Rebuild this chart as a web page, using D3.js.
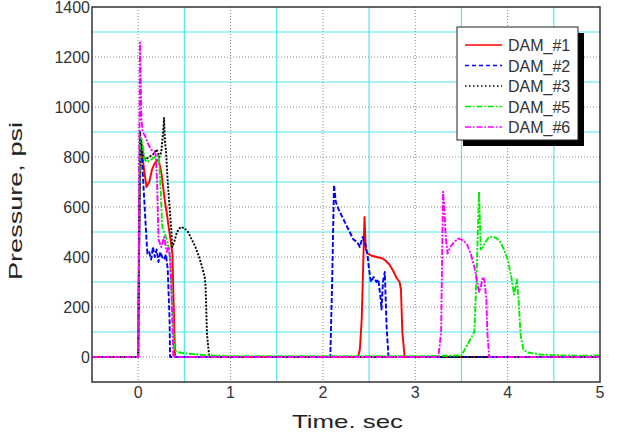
<!DOCTYPE html>
<html>
<head>
<meta charset="utf-8">
<script src="https://cdn.jsdelivr.net/npm/d3@7"></script>
<style>
  body { margin: 0; background: white; }
  text { font-family: "Liberation Sans", Arial, sans-serif; }
</style>
</head>
<body>
<div id="chart"></div>
<script>
const width = 619
const height = 432
const plotLeft = 92
const plotRight = 600
const plotTop = 7
const plotBottom = 382

// values
const xTicks = [0, 1, 2, 3, 4, 5]
const yTicks = [0, 200, 400, 600, 800, 1000, 1200, 1400]
const xMinor = [0.5, 1.5, 2.5, 3.5, 4.5]
const yMinor = [100, 300, 500, 700, 900, 1100, 1300]

const seriesNames = ['DAM_#1', 'DAM_#2', 'DAM_#3', 'DAM_#5', 'DAM_#6']
const seriesColors = ['#ff0000', '#0000ff', '#000000', '#00ee00', '#ff00ff']
const seriesDash = ['none', '5,2', '2,1.5', '6,1.5,2,1.5', '6,1.5,2,1.5']
const legendDash = ['none', '4,3', '1.5,2.5', '6,2,1.5,2', '6,2,1.5,2']

const tDam1 = [-0.5, 0.0, 0.015, 0.03, 0.06, 0.09, 0.12, 0.15, 0.18, 0.22, 0.25, 0.27, 0.29, 0.31, 0.33, 0.35, 0.37, 0.385, 0.40, 2.38, 2.40, 2.42, 2.44, 2.45, 2.465, 2.48, 2.53, 2.58, 2.64, 2.68, 2.72, 2.76, 2.80, 2.83, 2.845, 2.86, 2.885, 5.0]
const pDam1 = [0, 0, 600, 870, 760, 680, 700, 750, 776, 790, 740, 680, 620, 575, 520, 470, 414, 200, 0, 0, 30, 150, 420, 560, 430, 415, 405, 400, 395, 385, 370, 345, 315, 300, 270, 100, 0, 0]

const tDam2 = [-0.5, 0.0, 0.02, 0.04, 0.07, 0.09, 0.10, 0.12, 0.14, 0.16, 0.18, 0.20, 0.22, 0.24, 0.26, 0.28, 0.30, 0.32, 0.34, 0.345, 2.08, 2.10, 2.12, 2.14, 2.17, 2.21, 2.25, 2.29, 2.33, 2.37, 2.40, 2.43, 2.46, 2.48, 2.50, 2.52, 2.55, 2.58, 2.60, 2.62, 2.635, 2.65, 2.67, 2.68, 2.69, 2.71, 5.0]
const pDam2 = [0, 0, 880, 800, 600, 470, 414, 420, 390, 440, 400, 430, 380, 420, 400, 390, 410, 350, 150, 0, 0, 300, 688, 620, 590, 560, 530, 500, 470, 460, 440, 480, 450, 414, 350, 300, 320, 300, 310, 250, 190, 300, 340, 230, 120, 0, 0]

const tDam3 = [-0.5, 0.0, 0.02, 0.05, 0.08, 0.12, 0.16, 0.20, 0.23, 0.25, 0.27, 0.28, 0.29, 0.30, 0.32, 0.34, 0.36, 0.37, 0.39, 0.42, 0.46, 0.50, 0.54, 0.58, 0.62, 0.66, 0.70, 0.72, 0.73, 0.745, 0.77, 5.0]
const pDam3 = [0, 0, 900, 810, 790, 800, 810, 830, 800, 820, 900, 956, 860, 830, 700, 600, 500, 440, 460, 500, 520, 515, 500, 470, 440, 400, 350, 320, 280, 90, 0, 0]

const tDam5 = [-0.5, 0.0, 0.02, 0.04, 0.07, 0.10, 0.14, 0.18, 0.22, 0.24, 0.26, 0.28, 0.31, 0.34, 0.37, 0.39, 0.42, 0.5, 0.7, 1.0, 3.0, 3.5, 3.64, 3.67, 3.69, 3.71, 3.73, 3.76, 3.80, 3.84, 3.88, 3.92, 3.96, 4.00, 4.04, 4.07, 4.09, 4.10, 4.12, 4.14, 4.17, 4.22, 4.35, 4.6, 5.0]
const pDam5 = [0, 0, 880, 870, 790, 780, 790, 800, 805, 700, 520, 500, 470, 420, 200, 30, 20, 15, 8, 3, 3, 6, 100, 400, 661, 430, 440, 460, 480, 482, 475, 460, 430, 390, 320, 250, 290, 310, 220, 90, 30, 18, 10, 6, 5]

const tDam6 = [-0.5, 0.0, 0.01, 0.02, 0.035, 0.05, 0.08, 0.11, 0.14, 0.17, 0.19, 0.205, 0.22, 0.25, 0.28, 0.31, 0.33, 0.35, 0.37, 0.38, 3.25, 3.28, 3.30, 3.31, 3.33, 3.35, 3.38, 3.42, 3.47, 3.52, 3.56, 3.60, 3.64, 3.67, 3.69, 3.71, 3.73, 3.75, 3.77, 3.78, 3.80, 5.0]
const pDam6 = [0, 0, 700, 1258, 950, 900, 880, 850, 830, 820, 810, 700, 470, 440, 480, 420, 440, 380, 150, 0, 0, 100, 661, 620, 480, 414, 440, 460, 474, 466, 450, 414, 360, 300, 260, 280, 320, 306, 226, 100, 0, 0]

const seriesT = [tDam1, tDam2, tDam3, tDam5, tDam6]
const seriesP = [pDam1, pDam2, pDam3, pDam5, pDam6]

const xScale = d3.scaleLinear().domain([-0.5, 5]).range([plotLeft, plotRight])
const yScale = d3.scaleLinear().domain([-100, 1400]).range([plotBottom, plotTop])

const svg = d3.select('#chart').append('svg')
    .attr('width', width)
    .attr('height', height)

svg.append('rect')
    .attr('width', width)
    .attr('height', height)
    .attr('fill', 'white')

// grid: cyan solid at half steps, gray dotted at the ticks
const grid = svg.append('g')
grid.selectAll('.vminor').data(xMinor).enter().append('line')
    .attr('x1', d => xScale(d)).attr('x2', d => xScale(d))
    .attr('y1', plotTop).attr('y2', plotBottom)
    .attr('stroke', '#55e6f0').attr('stroke-width', 1.2)
grid.selectAll('.hminor').data(yMinor).enter().append('line')
    .attr('x1', plotLeft).attr('x2', plotRight)
    .attr('y1', d => yScale(d)).attr('y2', d => yScale(d))
    .attr('stroke', '#55e6f0').attr('stroke-width', 1.2)
grid.selectAll('.vmajor').data(xTicks.filter(d => d < 5)).enter().append('line')
    .attr('x1', d => xScale(d)).attr('x2', d => xScale(d))
    .attr('y1', plotTop).attr('y2', plotBottom)
    .attr('stroke', '#888').attr('stroke-width', 1).attr('stroke-dasharray', '1,2')
grid.selectAll('.hmajor').data(yTicks.filter(d => d < 1400)).enter().append('line')
    .attr('x1', plotLeft).attr('x2', plotRight)
    .attr('y1', d => yScale(d)).attr('y2', d => yScale(d))
    .attr('stroke', '#888').attr('stroke-width', 1).attr('stroke-dasharray', '1,2')

const valueline = d3.line()
    .x(d => xScale(d.x))
    .y(d => yScale(d.y))

const lineGroup = svg.append('g')
seriesNames.forEach(function(name, i) {
    const data = seriesT[i].map((t, j) => ({ x: t, y: seriesP[i][j] }))
    lineGroup.append('path')
        .data([data])
        .attr('fill', 'none')
        .attr('stroke', seriesColors[i])
        .attr('stroke-width', 1.9)
        .attr('stroke-dasharray', seriesDash[i])
        .attr('stroke-linejoin', 'round')
        .attr('d', valueline)
})

// frame
svg.append('rect')
    .attr('x', plotLeft).attr('y', plotTop)
    .attr('width', plotRight - plotLeft).attr('height', plotBottom - plotTop)
    .attr('fill', 'none').attr('stroke', '#333').attr('stroke-width', 1.5)

// tick labels
svg.append('g').selectAll('text').data(xTicks).enter().append('text')
    .attr('x', d => xScale(d)).attr('y', 398)
    .attr('text-anchor', 'middle').attr('font-size', 16).attr('fill', '#333')
    .text(d => d)
svg.append('g').selectAll('text').data(yTicks).enter().append('text')
    .attr('x', plotLeft - 2).attr('y', d => yScale(d) + 6)
    .attr('text-anchor', 'end').attr('font-size', 16).attr('fill', '#333')
    .text(d => d)

// axis titles
svg.append('text')
    .attr('x', 292).attr('y', 428)
    .attr('font-size', 19).attr('fill', '#222')
    .attr('textLength', 111).attr('lengthAdjust', 'spacingAndGlyphs')
    .text('Time. sec')
svg.append('text')
    .attr('transform', 'translate(22,280) rotate(-90)')
    .attr('font-size', 18).attr('fill', '#222')
    .attr('textLength', 158).attr('lengthAdjust', 'spacingAndGlyphs')
    .text('Pressure, psi')

// legend
const legend = svg.append('g').attr('transform', 'translate(457,27)')
legend.append('rect')
    .attr('x', 6).attr('y', 6).attr('width', 121).attr('height', 113)
    .attr('fill', 'black')
legend.append('rect')
    .attr('width', 121).attr('height', 113)
    .attr('fill', 'white').attr('stroke', '#222').attr('stroke-width', 1)
seriesNames.forEach(function(name, i) {
    const y = 18 + i * 20.5
    legend.append('line')
        .attr('x1', 8).attr('x2', 45).attr('y1', y).attr('y2', y)
        .attr('stroke', seriesColors[i]).attr('stroke-width', 1.3)
        .attr('stroke-dasharray', legendDash[i])
    legend.append('text')
        .attr('x', 51).attr('y', y + 6)
        .attr('font-size', 16).attr('fill', '#333')
        .text(name)
})
</script>
</body>
</html>
